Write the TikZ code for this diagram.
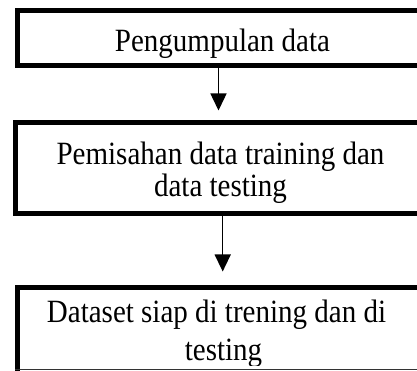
\documentclass[tikz,border=0pt]{standalone}
\usepackage{fontspec}
\setmainfont{Liberation Serif}
\usetikzlibrary{arrows.meta}

\tikzset{
  stagebox/.style={draw=black, line width=5pt, rectangle, inner sep=0pt},
  stagetext/.style={align=center, inner sep=0pt, yscale=1.12, transform shape,
    font=\fontsize{29}{29}\selectfont},
  flow/.style={draw=black, line width=1.5pt, -{Triangle[length=17pt,width=16pt]}},
}

\begin{document}
\begin{tikzpicture}[x=1pt, y=1pt]
  \useasboundingbox (0,0) rectangle (417,371);
  \clip (0,0) rectangle (417,371);

  % process boxes (right and bottom parts run past the frame)
  \node[stagebox, minimum width=410pt, minimum height=55pt] (box1) at (222.5,333) {};
  \node[stagebox, minimum width=412pt, minimum height=91pt] (box2) at (221,203) {};
  \node[stagebox, minimum width=410pt, minimum height=100pt] (box3) at (222.5,33.5) {};

  % labels
  \node[stagetext, anchor=base] (txt1) at (222.5,319.3) {Pengumpulan data};
  \node[stagetext, anchor=base] (txt2) at (220.5,174.3) {Pemisahan data training dan\\data testing};
  \begin{scope}
    \clip (0,5) rectangle (417,371);
    \node[stagetext, anchor=base] (txt3) at (223.5,10.5)
      {Dataset siap di trening dan di\hspace*{14pt}\\[5pt]testing};
  \end{scope}

  % bottom rule of the lower frame
  \draw[black!80, line width=1pt] (box3.west |- 0,1) -- (417,1);

  % flow arrows
  \draw[flow, shorten >=9.5pt] ([xshift=-4pt]box1.south) -- ([xshift=-2.5pt]box2.north);
  \draw[flow, shorten >=13.5pt] ([xshift=1.7pt]box2.south) -- ([xshift=0.2pt]box3.north);
\end{tikzpicture}
\end{document}
